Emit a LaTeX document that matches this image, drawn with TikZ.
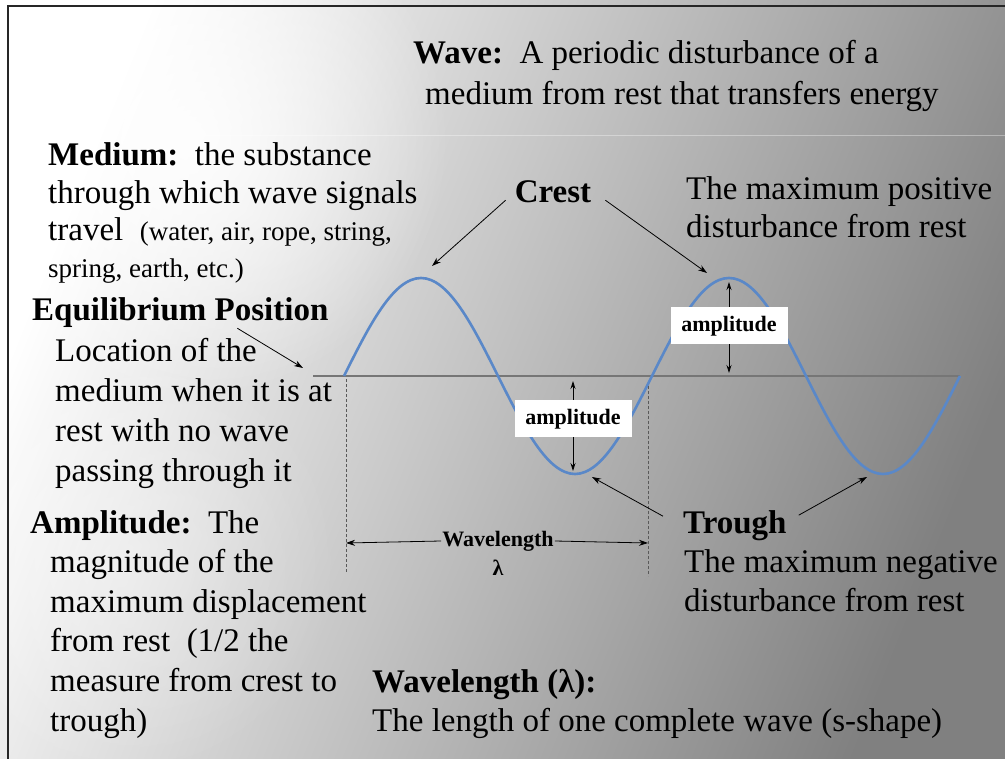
\documentclass[tikz,border=0pt]{standalone}
\usepackage{fontspec}
\setmainfont{Liberation Serif}
\usetikzlibrary{arrows.meta,positioning,fadings}
\definecolor{wavecol}{RGB}{90,136,200}
\definecolor{restcol}{RGB}{118,118,118}
\definecolor{bgdark}{RGB}{128,128,128}
\tikzfading[name=glow, inner color=transparent!0, outer color=transparent!100]
\newcommand{\bigtxt}{\fontsize{33}{39}\selectfont}
\newcommand{\smalltxt}{\fontsize{27}{32}\selectfont}
\newcommand{\lbltxt}{\fontsize{22}{26}\selectfont\bfseries}
\begin{document}
\begin{tikzpicture}[x=1pt, y=-1pt,
    txt/.style={anchor=base west, inner sep=0pt, font=\bigtxt},
    head/.style={txt, font=\bigtxt\bfseries},
    pointer/.style={-{Stealth[length=9pt,width=6pt]}, line width=0.8pt, black},
    ampline/.style={{Stealth[length=8pt,width=5pt]}-{Stealth[length=8pt,width=5pt]}, line width=0.8pt, black},
    ampbox/.style={fill=white, inner sep=0pt, minimum width=117pt, minimum height=37pt, font=\lbltxt},
    guide/.style={dash pattern=on 3pt off 2pt, line width=0.8pt, black!65},
]
\useasboundingbox (0,0) rectangle (1005,759);
% Background
\shade[top color=white, bottom color=bgdark, shading angle=68] (0,0) rectangle (1005,759);
\fill[white, path fading=glow, opacity=0.9] (190,140) circle (260);
\fill[white, path fading=glow, opacity=0.35] (120,560) circle (220);
\draw[white, opacity=0.35, line width=1pt] (9,136) -- (1005,136);
\draw[line width=2pt, black!85] (8,759) -- (8,6) -- (1005,6);

% Rest line and wave
\draw[restcol, line width=2.5pt] (313,376) -- (960,376);
\draw[wavecol, line width=2.6pt] (344,376) sin (421,278) cos (498,376) sin (575,474)
    cos (652,376) sin (729,278) cos (806,376) sin (883,474) cos (960,376);

% Points on the wave
\coordinate (crestAtip) at (432,266);
\coordinate (crestBtip) at (707,273);
\coordinate (troughAtip) at (592,477);
\coordinate (troughBtip) at (867,477);
\coordinate (resttip) at (303,368);
\coordinate (dashL) at (346,543);
\coordinate (dashR) at (648,543);

% Wavelength marks
\draw[guide] (346,379) -- (346,572);
\draw[guide] (648,386) -- (648,576);
\node[font=\lbltxt, inner sep=1pt] (wl) at (498,541) {Wavelength};
\node[font=\lbltxt, inner sep=1pt] (lam) at (498,568) {λ};
\draw[pointer] (wl.west) -- (dashL);
\draw[pointer] (wl.east) -- (dashR);

% Amplitudes
\draw[ampline] (573,381) -- (573,471);
\node[ampbox] (ampA) at (573,419) {amplitude};
\draw[ampline] (729,282) -- (729,373);
\node[ampbox] (ampB) at (729,326) {amplitude};

% Top definition
\node[txt] (wave1) at (413,64) {\textbf{Wave:}\ \ A periodic disturbance of a};
\node[txt] (wave2) at (425,105) {medium from rest that transfers energy};

% Medium
\node[txt] (med1) at (48,166) {\textbf{Medium:}\ \ the substance};
\node[txt] (med2) at (48,204) {through which wave signals};
\node[txt] (med3) at (48,241) {travel\ \ {\smalltxt (water, air, rope, string,}};
\node[txt, font=\smalltxt] (med4) at (48,278) {spring, earth, etc.)};

% Equilibrium position
\node[head] (eqhead) at (32,321) {Equilibrium Position};
\foreach \t [count=\i] in {Location of the, medium when it is at, rest with no wave, passing through it}
    \node[txt] (eq\i) at (55,322+40*\i) {\t};
\draw[pointer] ([xshift=57pt]eqhead.south) -- (resttip);

% Amplitude
\node[txt] (amphead) at (30,533) {\textbf{Amplitude:}\ \ The};
\foreach \t [count=\i] in {magnitude of the, maximum displacement, from rest\ \ (1/2 the, measure from crest to, trough)}
    \node[txt] (amp\i) at (50,533+39.6*\i) {\t};

% Crest
\node[head, anchor=base] (crest) at (553,203) {Crest};
\node[txt] (crestdef1) at (686,200) {The maximum positive};
\node[txt] (crestdef2) at (686,238) {disturbance from rest};
\draw[pointer] ([shift={(-9,8)}]crest.west) -- (crestAtip);
\draw[pointer] ([shift={(14,8)}]crest.east) -- (crestBtip);

% Trough
\node[head] (trough) at (683,533) {Trough};
\node[txt] (troughdef1) at (684,572) {The maximum negative};
\node[txt] (troughdef2) at (684,611) {disturbance from rest};
\draw[pointer] ([shift={(-20,-9)}]trough.west) -- (troughAtip);
\draw[pointer] ([shift={(12,-10)}]trough.east) -- (troughBtip);

% Wavelength
\node[txt] (wlhead) at (372,692) {\textbf{Wavelength (λ):}};
\node[txt] (wldef) at (372,731) {The length of one complete wave (s-shape)};
\end{tikzpicture}
\end{document}
